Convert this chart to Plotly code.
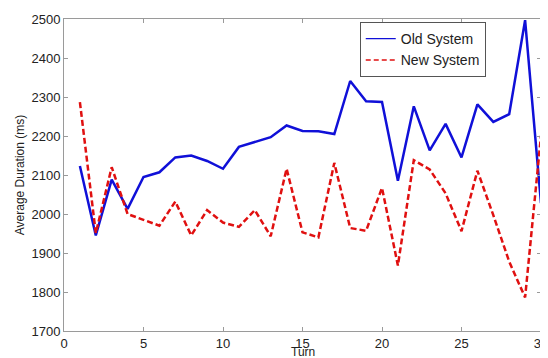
import plotly.graph_objects as go

turns = list(range(1, 31))
old_system = [2123, 1945, 2088, 2013, 2095, 2107, 2145, 2150, 2136, 2116,
              2172, 2185, 2197, 2227, 2213, 2212, 2205, 2341, 2289, 2287,
              2085, 2276, 2163, 2231, 2145, 2281, 2236, 2256, 2497, 2028]
new_system = [2287, 1951, 2120, 2000, 1985, 1970, 2032, 1945, 2010, 1978,
              1967, 2010, 1943, 2116, 1953, 1940, 2131, 1964, 1957, 2067,
              1868, 2138, 2114, 2053, 1956, 2111, 1997, 1878, 1786, 2201]

x_ticks = [0, 5, 10, 15, 20, 25, 30]
y_ticks = [1700, 1800, 1900, 2000, 2100, 2200, 2300, 2400, 2500]

FONT = "Liberation Sans, Arial, Helvetica, sans-serif"
BLUE = "#1010d8"
RED = "#e01010"

fig = go.Figure()
fig.add_trace(go.Scatter(x=turns, y=old_system, mode="lines", name="Old System",
                         showlegend=False, line=dict(color=BLUE, width=2.5)))
fig.add_trace(go.Scatter(x=turns, y=new_system, mode="lines", name="New System",
                         showlegend=False, line=dict(color=RED, width=2.5, dash="6px,3px")))
# thin legend samples, as in the reference
fig.add_trace(go.Scatter(x=[None], y=[None], mode="lines", name="Old System",
                         line=dict(color=BLUE, width=1.2)))
fig.add_trace(go.Scatter(x=[None], y=[None], mode="lines", name="New System",
                         line=dict(color=RED, width=1.5, dash="5px,3px")))

axis_common = dict(showline=True, linecolor="#9a9a9a", linewidth=1, mirror="ticks",
                   ticks="inside", ticklen=4, tickcolor="#9a9a9a", showgrid=False,
                   zeroline=False, ticklabeloverflow="allow",
                   tickfont=dict(family=FONT, size=13, color="#222"))

# page body has an 8px margin, so the figure sits at (8, 8)
fig.update_layout(
    width=548, height=358,
    margin=dict(l=56, r=15, t=4, b=35),
    paper_bgcolor="white", plot_bgcolor="white",
    font=dict(family=FONT, color="#222"),
    xaxis=dict(range=[0, 30], tickvals=x_ticks, ticklabelstandoff=0, **axis_common),
    yaxis=dict(range=[1700, 2500], tickvals=y_ticks, ticklabelstandoff=0,
               title=dict(text="Average Duration (ms)", font=dict(size=12), standoff=4),
               **axis_common),
    legend=dict(x=0.62, y=0.99, xanchor="left", yanchor="top",
                bgcolor="white", bordercolor="#555", borderwidth=1,
                font=dict(family=FONT, size=14, color="#222"),
                tracegroupgap=0, itemwidth=30),
    showlegend=True,
    annotations=[dict(text="Turn", xref="paper", yref="paper", x=0.5, y=0,
                      xanchor="center", yanchor="top", yshift=-12, showarrow=False,
                      font=dict(family=FONT, size=12, color="#222"))],
)

fig.write_html("out.html")
